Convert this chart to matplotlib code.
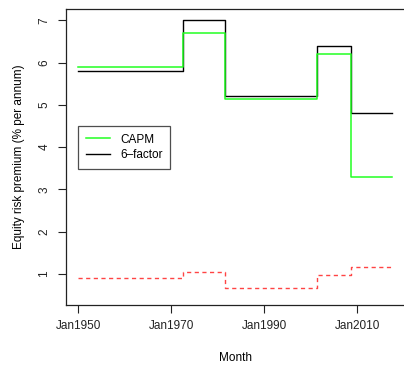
import datetime as dt
import matplotlib
matplotlib.use('Agg')
import matplotlib.pyplot as plt
import matplotlib.dates as mdates

plt.rcParams['font.family'] = ['Liberation Sans', 'DejaVu Sans']

# regime boundaries (start of each segment, last entry is the end of the sample)
breaks = [dt.date(1950, 1, 1), dt.date(1972, 7, 1), dt.date(1981, 9, 1),
          dt.date(2001, 5, 1), dt.date(2008, 10, 1), dt.date(2017, 8, 1)]

capm = [5.9, 6.7, 5.15, 6.2, 3.3]
six_factor = [5.8, 7.0, 5.2, 6.4, 4.8]
spread = [0.9, 1.05, 0.67, 0.98, 1.15]

tick_dates = [dt.date(1950, 1, 1), dt.date(1970, 1, 1), dt.date(1990, 1, 1), dt.date(2010, 1, 1)]
tick_labels = ['Jan1950', 'Jan1970', 'Jan1990', 'Jan2010']
y_ticks = [1, 2, 3, 4, 5, 6, 7]


def steps(vals):
    return vals + [vals[-1]]


fig = plt.figure(figsize=(4.04, 3.67), dpi=100)
ax = fig.add_axes([0.1626, 0.169, 0.8399, 0.8065])

ax.step(breaks, steps(six_factor), where='post', color='black', lw=1.0, label='6\u2013factor')
ax.step(breaks, steps(capm), where='post', color='#22ff22', lw=1.1, label='CAPM')
ax.step(breaks, steps(spread), where='post', color='#ff4444', lw=1.0,
        linestyle=(0, (3, 2.5)))

span = mdates.date2num(breaks[-1]) - mdates.date2num(breaks[0])
x0 = mdates.date2num(breaks[0]) - 0.04 * span
x1 = mdates.date2num(breaks[-1]) + 0.04 * span
ax.set_xlim(x0, x1)
ax.set_ylim(0.26, 7.27)

ax.set_xticks(tick_dates)
ax.set_xticklabels(tick_labels)
ax.set_yticks(y_ticks)
ax.set_yticklabels([str(v) for v in y_ticks], rotation=90, va='center')
ax.tick_params(direction='out', length=6, width=0.8, labelsize=8.5, pad=5, colors='#222222')

for s in ax.spines.values():
    s.set_linewidth(0.9)
    s.set_color('#222222')

ax.set_xlabel('Month', fontsize=8.5, labelpad=14)
ax.set_ylabel('Equity risk premium (% per annum)', fontsize=8.5, labelpad=10)

handles, labels = ax.get_legend_handles_labels()
leg = ax.legend(handles[::-1], labels[::-1], loc='upper left',
                bbox_to_anchor=(0.037, 0.605), fontsize=8.5, frameon=True,
                fancybox=False, edgecolor='#222222', handlelength=2.0,
                handletextpad=0.9, borderpad=0.65, labelspacing=0.3,
                borderaxespad=0)
leg.get_frame().set_linewidth(0.9)

fig.savefig('out.png', dpi=100)
